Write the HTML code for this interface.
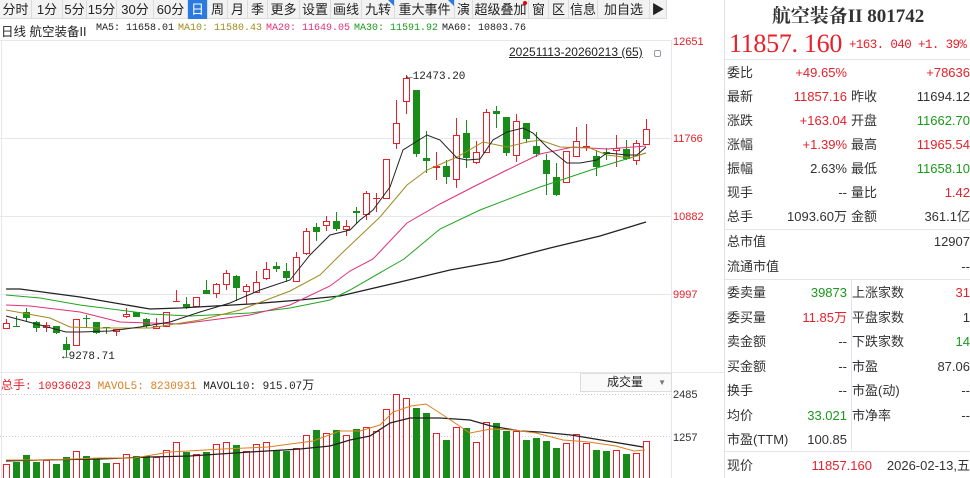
<!DOCTYPE html>
<html><head><meta charset="utf-8"><style>
*{margin:0;padding:0;box-sizing:border-box}
body{width:970px;height:478px;overflow:hidden;background:#fff;font-family:"Liberation Sans","Noto Sans CJK SC",sans-serif;position:relative}
.tb{position:absolute;top:0;left:0;height:19px;display:flex;background:#f2f2f2;border-bottom:1px solid #dcdcdc}
.tb div{height:19px;border-right:1px solid #dcdcdc;font-size:13px;line-height:19px;text-align:center;color:#222;position:relative;white-space:nowrap;overflow:hidden}
.tb .sel{background:#2a7ae2;color:#fff}
.tri:after{content:"";position:absolute;right:0;top:0;border-top:6px solid #2a7ae2;border-left:6px solid transparent}
.mono{font-family:"Liberation Mono","Noto Sans CJK SC",monospace}
.a{position:absolute;white-space:nowrap}
.r{color:#e8202a}.g{color:#1a9a1a}
.rp{position:absolute;left:724px;top:0;width:246px;height:478px;border-left:1px solid #e0e0ea;font-size:13px;color:#333}
.row{position:absolute;left:2px;height:20px;line-height:20px}
.rv{position:absolute;text-align:right;white-space:nowrap}
.hl{position:absolute;left:0;width:246px;height:1px;background:#e4e4ee}
</style></head><body>
<div class="tb">
<div style="width:32px">分时</div><div style="width:31px">1分</div><div style="width:24px">5分</div><div style="width:30px">15分</div><div style="width:37px">30分</div><div style="width:34px">60分</div><div class="sel" style="width:20px">日</div><div style="width:20px">周</div><div style="width:20px">月</div><div style="width:20px">季</div><div style="width:32px">更多</div><div style="width:31px">设置</div><div style="width:31px">画线</div><div class="tri" style="width:33px">九转</div><div class="tri" style="width:60px">重大事件</div><div style="width:18px">演</div><div style="width:56px">超级叠加<span style="position:absolute;right:1px;top:1px;width:4px;height:4px;background:#e00;border-radius:2px"></span></div><div style="width:20px">窗</div><div style="width:20px">区</div><div style="width:29px">信息</div><div style="width:52px">加自选</div><div style="width:17px">▶</div>
</div>
<div class="a" style="left:1px;top:21px;font-size:12.5px;color:#222">日线 航空装备II</div>
<div class="a mono" style="left:96px;top:23px;font-size:10px;color:#222">MA5: 11658.01</div>
<div class="a mono" style="left:178px;top:23px;font-size:10px;color:#a08a20">MA10: 11580.43</div>
<div class="a mono" style="left:266px;top:23px;font-size:10px;color:#e0307a">MA20: 11649.05</div>
<div class="a mono" style="left:354px;top:23px;font-size:10px;color:#1a9a1a">MA30: 11591.92</div>
<div class="a mono" style="left:442px;top:23px;font-size:10px;color:#222">MA60: 10803.76</div>
<div class="a" style="left:509px;top:45px;font-size:12px;color:#222;text-decoration:underline">20251113-20260213 (65)</div>
<div class="a" style="left:654px;top:50px;width:7px;height:7px;border:1px solid #999;border-radius:2px"></div>
<svg class="a" style="left:0;top:0" width="724" height="478" viewBox="0 0 724 478">
<g stroke="#e6e6f0" stroke-width="1" shape-rendering="crispEdges">
<line x1="0" y1="40.5" x2="672" y2="40.5"/><line x1="0" y1="138.5" x2="672" y2="138.5"/><line x1="0" y1="216.5" x2="672" y2="216.5"/><line x1="0" y1="294.5" x2="672" y2="294.5"/>
<line x1="0" y1="372.5" x2="724" y2="372.5"/><line x1="671.5" y1="40" x2="671.5" y2="478"/><line x1="1.5" y1="40" x2="1.5" y2="478"/>
</g>
<g stroke="#ccc" stroke-dasharray="1,2"><line x1="0" y1="394.5" x2="672" y2="394.5"/><line x1="0" y1="436.5" x2="672" y2="436.5"/></g>
<g font-family="Liberation Sans" font-size="11" fill="#e8202a"><text x="673" y="45">12651</text><text x="673" y="142">11766</text><text x="673" y="220">10882</text><text x="673" y="298">9997</text></g>
<g font-family="Liberation Sans" font-size="11" fill="#333"><text x="673" y="398">2485</text><text x="673" y="441">1257</text></g>
<g id="candles" shape-rendering="crispEdges"></g>
<g fill="none" stroke-width="1">
<polyline stroke="#222" stroke-width="1.3" points="6,289 20,289 80,297 150,309 180,308 250,304 300,300 340,296 400,282 450,270 500,261 550,248 600,236 646,222"/>
<polyline stroke="#1fa51f" points="6,295 40,298 80,305 150,314 190,316 250,313 290,308 330,300 350,290 404,259 440,229 480,210 540,187 600,167 646,153"/>
<polyline stroke="#e0307a" points="6,305 30,306 80,312 120,322 180,324 250,315 290,305 330,286 350,271 373,259 407,223 440,204 473,187 507,170 540,154 573,147 607,149 646,146"/>
<polyline stroke="#a08a20" points="6,310 50,318 70,327 100,328 150,328 200,320 240,310 290,291 320,275 340,255 380,217 407,185 427,170 457,157 483,142 507,147 527,142 540,140 560,147 590,148 607,155 630,158 646,153"/>
<polyline stroke="#222" points="6,316 40,325 66,332 80,332 110,331 140,327 170,322 200,312 230,303 260,290 290,280 310,255 330,235 350,230 360,220 373,210 390,187 403,150 427,135 440,140 457,158 467,160 480,159 493,140 507,132 523,128 533,133 547,147 567,163 580,163 597,160 607,153 627,155 637,155 646,147"/>
</g>
<g id="vols" shape-rendering="crispEdges"></g>
<g fill="none">
<polyline stroke="#222" stroke-width="1.3" points="6,461 40,460 100,459 150,457 190,456 250,452 300,449 330,446 350,440 370,436 390,423 410,418 440,418 470,420 491,426 520,431 540,432 571,435 607,441 643,447"/>
<polyline stroke="#d98020" points="6,460 45,460 100,458 134,458 170,452 223,449 268,447 313,441 340,431 360,431 380,425 393,412 411,406 426,404 446,417 470,433 491,429 513,430 536,433 563,440 589,442 616,446 634,451 645,450"/>
</g>
<text x="62" y="359" font-family="Liberation Mono" font-size="11" fill="#222">←9278.71</text>
<text x="406" y="79" font-family="Liberation Mono" font-size="11" fill="#222">←12473.20</text>
</svg>
<div class="a" style="left:1px;top:376px;font-size:11px"><span class="r"><span style="font-size:12px">总手</span><span class="mono">: 10936023</span></span><span class="mono" style="color:#d98020"> MAVOL5: 8230931</span><span class="mono" style="color:#222"> MAVOL10: 915.07</span><span style="font-size:12px;color:#222">万</span></div>
<div class="a" style="left:580px;top:373px;width:92px;height:19px;border:1px solid #ddd;background:#fafafa;font-size:12px;line-height:17px;padding-left:26px;color:#222">成交量<span style="position:absolute;right:5px;font-size:8px;color:#777">▼</span></div>
<div class="rp">
<div class="a" style="left:0;width:246px;top:1px;text-align:center;font-family:'Liberation Serif','Noto Serif CJK SC',serif;font-weight:bold;font-size:19px;color:#333">航空装备II 801742</div>
<div class="a r" style="left:4px;top:29px;font-family:'Liberation Serif',serif;font-size:26px;letter-spacing:-0.3px">11857. 160</div>
<div class="a r mono" style="left:124px;top:38px;font-size:12.5px;letter-spacing:-0.6px">+163. 040 +1. 39%</div>
<div class="hl" style="top:59px"></div>
<div id="rows"></div>
<div class="hl" style="top:229px"></div>
<div class="row" style="top:232px">总市值</div><div class="rv" style="right:0;top:232px;line-height:20px">12907</div>
<div class="row" style="top:257px">流通市值</div><div class="rv" style="right:0;top:257px;line-height:20px">--</div>
<div class="hl" style="top:279px"></div>
<div class="a" style="left:126px;top:280px;width:1px;height:170px;background:#e4e4ee"></div>
<div id="rows2"></div>
<div class="hl" style="top:451px"></div>
<div class="row" style="top:456px">现价</div><div class="rv r" style="right:98px;top:456px;line-height:20px">11857.160</div><div class="rv" style="right:0;top:456px;line-height:20px">2026-02-13,五</div>
</div>
<script>
var C=[[6,319,329,323,329,'r'],[16,316,327,326,327,'g'],[26,308,322,312,318,'g'],[36,321,332,322,328,'g'],[46,322,332,325,328,'r'],[56,326,334,326,333,'g'],[66,337,357,344,350,'g'],[76,319,346,319,346,'r'],[86,315,327,318,319,'g'],[96,322,334,322,333,'g'],[106,327,334,327,328,'g'],[116,329,336,329,332,'r'],[126,308,318,314,317,'r'],[136,312,317,312,317,'g'],[146,318,328,319,326,'g'],[156,318,329,326,329,'r'],[166,312,327,312,327,'r'],[176,290,301,301,301,'r'],[186,297,309,304,307,'g'],[196,297,307,297,307,'r'],[206,280,294,290,294,'g'],[216,283,298,284,294,'r'],[226,270,290,273,285,'r'],[236,275,301,276,288,'g'],[246,284,304,286,292,'r'],[256,271,293,282,293,'r'],[266,262,280,269,279,'r'],[276,262,272,266,269,'g'],[286,263,282,271,278,'g'],[296,252,282,257,282,'r'],[306,228,255,231,254,'r'],[316,223,241,227,232,'g'],[326,216,231,221,226,'r'],[336,212,231,221,229,'g'],[346,220,236,226,230,'r'],[356,207,224,211,213,'g'],[366,191,220,193,215,'r'],[376,193,212,198,198,'r'],[386,159,199,159,199,'r'],[396,100,149,123,144,'r'],[406,75,114,78,102,'r'],[416,90,157,90,154,'g'],[426,131,173,158,161,'g'],[436,152,180,166,168,'r'],[446,160,184,166,177,'g'],[456,118,188,135,180,'r'],[466,120,168,133,158,'g'],[476,141,164,152,163,'r'],[486,109,153,112,153,'r'],[496,106,128,111,114,'g'],[506,117,156,117,153,'g'],[516,114,162,121,156,'r'],[526,123,143,123,139,'g'],[536,132,157,146,154,'g'],[546,154,195,160,174,'g'],[556,163,196,177,195,'g'],[566,151,183,151,183,'r'],[576,127,157,141,157,'r'],[586,124,151,146,148,'r'],[596,150,176,156,167,'g'],[606,148,160,152,154,'g'],[616,135,167,148,151,'r'],[626,140,160,149,159,'g'],[636,140,165,143,161,'r'],[646,119,145,129,145,'r']];
var R='#e8202a',G='#1a8c1a',s='';
C.forEach(function(c){var col=c[5]=='r'?R:G;s+='<line x1="'+(c[0]+.5)+'" y1="'+c[1]+'" x2="'+(c[0]+.5)+'" y2="'+c[2]+'" stroke="'+col+'"/>';var h=Math.max(1,c[4]-c[3]);if(c[5]=='r'){if(h<=1)s+='<line x1="'+(c[0]-3)+'" y1="'+(c[3]+.5)+'" x2="'+(c[0]+4)+'" y2="'+(c[3]+.5)+'" stroke="'+R+'"/>';else s+='<rect x="'+(c[0]-2.5)+'" y="'+(c[3]+.5)+'" width="6" height="'+(h-1)+'" fill="#fff" stroke="'+R+'"/>';}else s+='<rect x="'+(c[0]-3)+'" y="'+c[3]+'" width="7" height="'+h+'" fill="'+G+'"/>';});
document.getElementById('candles').innerHTML=s;
var V=[[464,'r'],[462,'g'],[455,'g'],[462,'g'],[460,'r'],[464,'g'],[457,'g'],[451,'r'],[456,'g'],[458,'g'],[463,'g'],[463,'r'],[454,'r'],[456,'g'],[456,'g'],[457,'r'],[450,'r'],[442,'r'],[452,'g'],[454,'r'],[452,'g'],[444,'r'],[442,'r'],[445,'g'],[451,'r'],[444,'r'],[442,'r'],[450,'g'],[451,'g'],[448,'r'],[435,'r'],[430,'g'],[433,'r'],[430,'g'],[435,'r'],[429,'g'],[427,'r'],[431,'r'],[409,'r'],[394,'r'],[398,'r'],[408,'g'],[413,'g'],[433,'r'],[440,'g'],[427,'r'],[428,'g'],[442,'r'],[422,'r'],[423,'g'],[431,'g'],[431,'r'],[440,'g'],[438,'g'],[441,'g'],[448,'g'],[443,'r'],[434,'r'],[443,'r'],[450,'g'],[451,'g'],[450,'r'],[454,'g'],[453,'r'],[441,'r']];
s='';V.forEach(function(v,i){var x=6+i*10;if(v[1]=='r')s+='<rect x="'+(x-2.5)+'" y="'+(v[0]+.5)+'" width="6" height="'+(478-v[0])+'" fill="#fff" stroke="'+R+'"/>';else s+='<rect x="'+(x-3)+'" y="'+v[0]+'" width="7" height="'+(478-v[0])+'" fill="'+G+'"/>';});
document.getElementById('vols').innerHTML=s;
var rows=[['委比','+49.65%','r','','+78636','r'],['最新','11857.16','r','昨收','11694.12',''],['涨跌','+163.04','r','开盘','11662.70','g'],['涨幅','+1.39%','r','最高','11965.54','r'],['振幅','2.63%','','最低','11658.10','g'],['现手','--','','量比','1.42','r'],['总手','1093.60万','','金额','361.1亿','']];
s='';rows.forEach(function(r,i){var t=63+i*24;s+='<div class="row" style="top:'+t+'px">'+r[0]+'</div><div class="rv '+r[2]+'" style="right:123px;top:'+t+'px;line-height:20px">'+r[1]+'</div><div class="a" style="left:126px;top:'+t+'px;line-height:20px">'+r[3]+'</div><div class="rv '+r[5]+'" style="right:0;top:'+t+'px;line-height:20px">'+r[4]+'</div>';});
document.getElementById('rows').innerHTML=s;
var rows2=[['委卖量','39873','g','上涨家数','31','r'],['委买量','11.85万','r','平盘家数','1',''],['卖金额','--','','下跌家数','14','g'],['买金额','--','','市盈','87.06',''],['换手','--','','市盈(动)','--',''],['均价','33.021','g','市净率','--',''],['市盈(TTM)','100.85','','','','']];
s='';rows2.forEach(function(r,i){var t=283+i*24.5;s+='<div class="row" style="top:'+t+'px">'+r[0]+'</div><div class="rv '+r[2]+'" style="right:123px;top:'+t+'px;line-height:20px">'+r[1]+'</div><div class="a" style="left:127px;top:'+t+'px;line-height:20px">'+r[3]+'</div><div class="rv '+r[5]+'" style="right:0;top:'+t+'px;line-height:20px">'+r[4]+'</div>';});
document.getElementById('rows2').innerHTML=s;
</script>
</body></html>
